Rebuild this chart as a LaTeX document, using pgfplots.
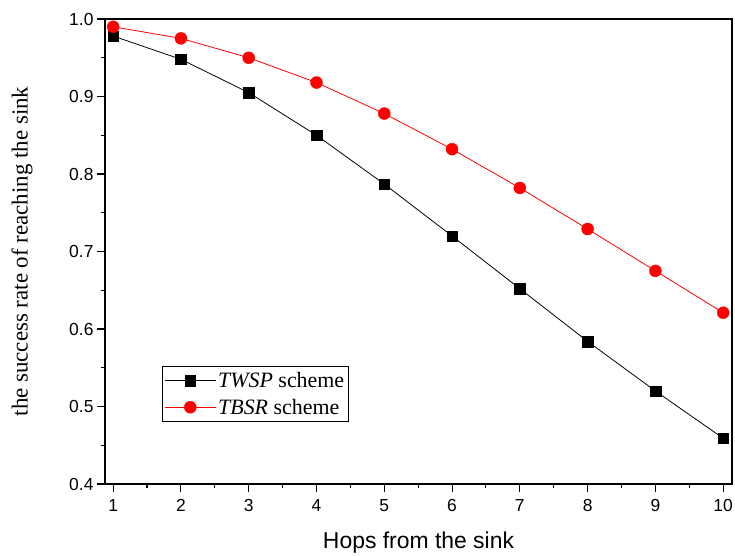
\documentclass[border=0pt]{standalone}
\usepackage{pgfplots}
\pgfplotsset{compat=1.18}
\usepackage{fontspec}
\setmainfont{Liberation Serif}
\newfontfamily\arial{Liberation Sans}
\begin{document}
\begin{tikzpicture}
\path[use as bounding box] (-105bp,-72bp) rectangle (630bp,484bp);
\begin{axis}[
  at={(0,0)}, anchor=south west,
  scale only axis, width=627bp, height=465bp,
  xmin=0.88, xmax=10.13, ymin=0.4, ymax=1.0,
  xtick={1,...,10}, ytick={0.4,0.5,...,1.0},
  minor xtick={1.5,2.5,...,9.5}, minor ytick={0.45,0.55,...,0.95},
  tick align=outside, xtick pos=bottom, ytick pos=left,
  major tick length=8bp, minor tick length=4bp,
  every tick/.style={black, line width=1.1pt},
  axis line style={line width=1.5pt},
  /pgf/number format/assume math mode=true,
  tick label style={font=\arial\fontsize{17.5}{21}\selectfont},
  xticklabel style={yshift=-4bp},
  yticklabel style={/pgf/number format/fixed, /pgf/number format/fixed zerofill, /pgf/number format/precision=1},
  xlabel={\arial\fontsize{23}{27}\selectfont Hops from the sink},
  ylabel={\fontsize{23}{27}\selectfont the success rate of reaching the sink},
  xlabel style={at={(axis description cs:0.5,0)}, anchor=center, yshift=-59bp},
  ylabel style={at={(axis description cs:0,0.5)}, anchor=center, yshift=83bp},
  legend style={at={(57bp,62bp)}, anchor=south west, draw=black, line width=0.8pt,
    font=\fontsize{22}{26}\selectfont, inner xsep=2bp, inner ysep=4bp, row sep=6bp, cells={anchor=west}},
  legend cell align=left,
  legend image code/.code={
    \draw[mark repeat=2,mark phase=2,#1] plot coordinates {(0cm,0cm) (0.9cm,0cm) (1.8cm,0cm)};},
  clip=false,
]
\addplot[black, line width=0.8pt, mark=square*, mark size=5.3bp, mark options={solid, fill=black, line width=0.4pt}]
  coordinates {(1,0.978)(2,0.948)(3,0.905)(4,0.850)(5,0.787)(6,0.720)(7,0.652)(8,0.584)(9,0.520)(10,0.459)};
\addlegendentry{\textit{TWSP} scheme}
\addplot[red, line width=0.8pt, mark=*, mark size=6bp, mark options={solid, fill=red, draw=red, line width=0.4pt}]
  coordinates {(1,0.990)(2,0.975)(3,0.950)(4,0.918)(5,0.878)(6,0.832)(7,0.782)(8,0.729)(9,0.675)(10,0.621)};
\addlegendentry{\textit{TBSR} scheme}
\end{axis}
\end{tikzpicture}
\end{document}
